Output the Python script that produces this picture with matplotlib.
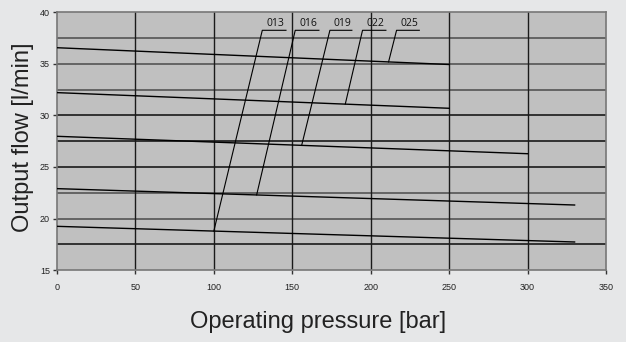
import matplotlib
matplotlib.use("Agg")
import matplotlib.pyplot as plt

# Performance lines: (start pressure, start flow, end pressure, end flow)
models = ["013", "016", "019", "022", "025"]
line_x_start = [0, 0, 0, 0, 0]
line_y_start = [19.24, 22.9, 27.98, 32.22, 36.58]
line_x_end = [330, 330, 300, 250, 250]
line_y_end = [17.72, 21.31, 26.29, 30.7, 34.95]

# Leader lines: bottom point on curve, top point near label, underline end
leader_bottom_x = [100, 127.3, 156, 183.8, 211.4]
leader_bottom_y = [18.78, 22.29, 27.1, 31.1, 35.2]
leader_top_x = [130.9, 151.9, 174.0, 194.8, 216.5]
leader_top_y = [38.27, 38.27, 38.27, 38.27, 38.27]
underline_end_x = [146.0, 167.0, 188.0, 209.7, 231.0]

x_ticks = [0, 50, 100, 150, 200, 250, 300, 350]
y_ticks = [15, 20, 25, 30, 35, 40]
y_grid = [17.5, 20, 22.5, 25, 27.5, 30, 32.5, 35, 37.5]
x_grid = [50, 100, 150, 200, 250, 300]

fig = plt.figure(figsize=(6.26, 3.42), dpi=100)
fig.patch.set_facecolor("#e6e7e8")
ax = fig.add_axes([0.091, 0.2105, 0.877, 0.753])
ax.set_facecolor("#c0c0c0")
ax.set_xlim(0, 350)
ax.set_ylim(15, 40)

for yv in y_grid:
    col = "#555555" if yv in (20, 22.5, 35, 37.5, 32.5) else "#1a1a1a"
    ax.axhline(yv, color=col, lw=1.2, zorder=1)
for xv in x_grid:
    ax.axvline(xv, color="#1a1a1a", lw=1.0, zorder=1)

for xs, ys, xe, ye in zip(line_x_start, line_y_start, line_x_end, line_y_end):
    ax.plot([xs, xe], [ys, ye], color="black", lw=1.0, zorder=3)

for name, bx, by, tx, ty, ux in zip(models, leader_bottom_x, leader_bottom_y,
                                     leader_top_x, leader_top_y, underline_end_x):
    ax.plot([bx, tx, ux], [by, ty, ty], color="black", lw=0.8, zorder=3)
    ax.text((tx + ux) / 2 + 1, ty + 0.12, name, fontsize=7.5, ha="center",
            va="bottom", family="Open Sans", color="#111111", zorder=4)

for sp in ax.spines.values():
    sp.set_color("#777777")
    sp.set_linewidth(1.2)

ax.set_xticks(x_ticks)
ax.set_yticks(y_ticks)
ax.tick_params(axis="both", labelsize=6.5, colors="#333333", length=3, width=1,
               direction="out")
ax.tick_params(axis="y", pad=2)
ax.tick_params(axis="x", pad=6)
for lbl in ax.get_xticklabels() + ax.get_yticklabels():
    lbl.set_family("Liberation Sans")
    lbl.set_color("#222222")

fig.text(0.508, 0.058, "Operating pressure [bar]", fontsize=17,
         family="Liberation Sans", color="#222222", ha="center", va="center")
fig.text(0.036, 0.60, "Output flow [l/min]", fontsize=17, rotation=90,
         family="Liberation Sans", color="#222222", ha="center", va="center")

fig.savefig("out.png", dpi=100, facecolor=fig.get_facecolor())
